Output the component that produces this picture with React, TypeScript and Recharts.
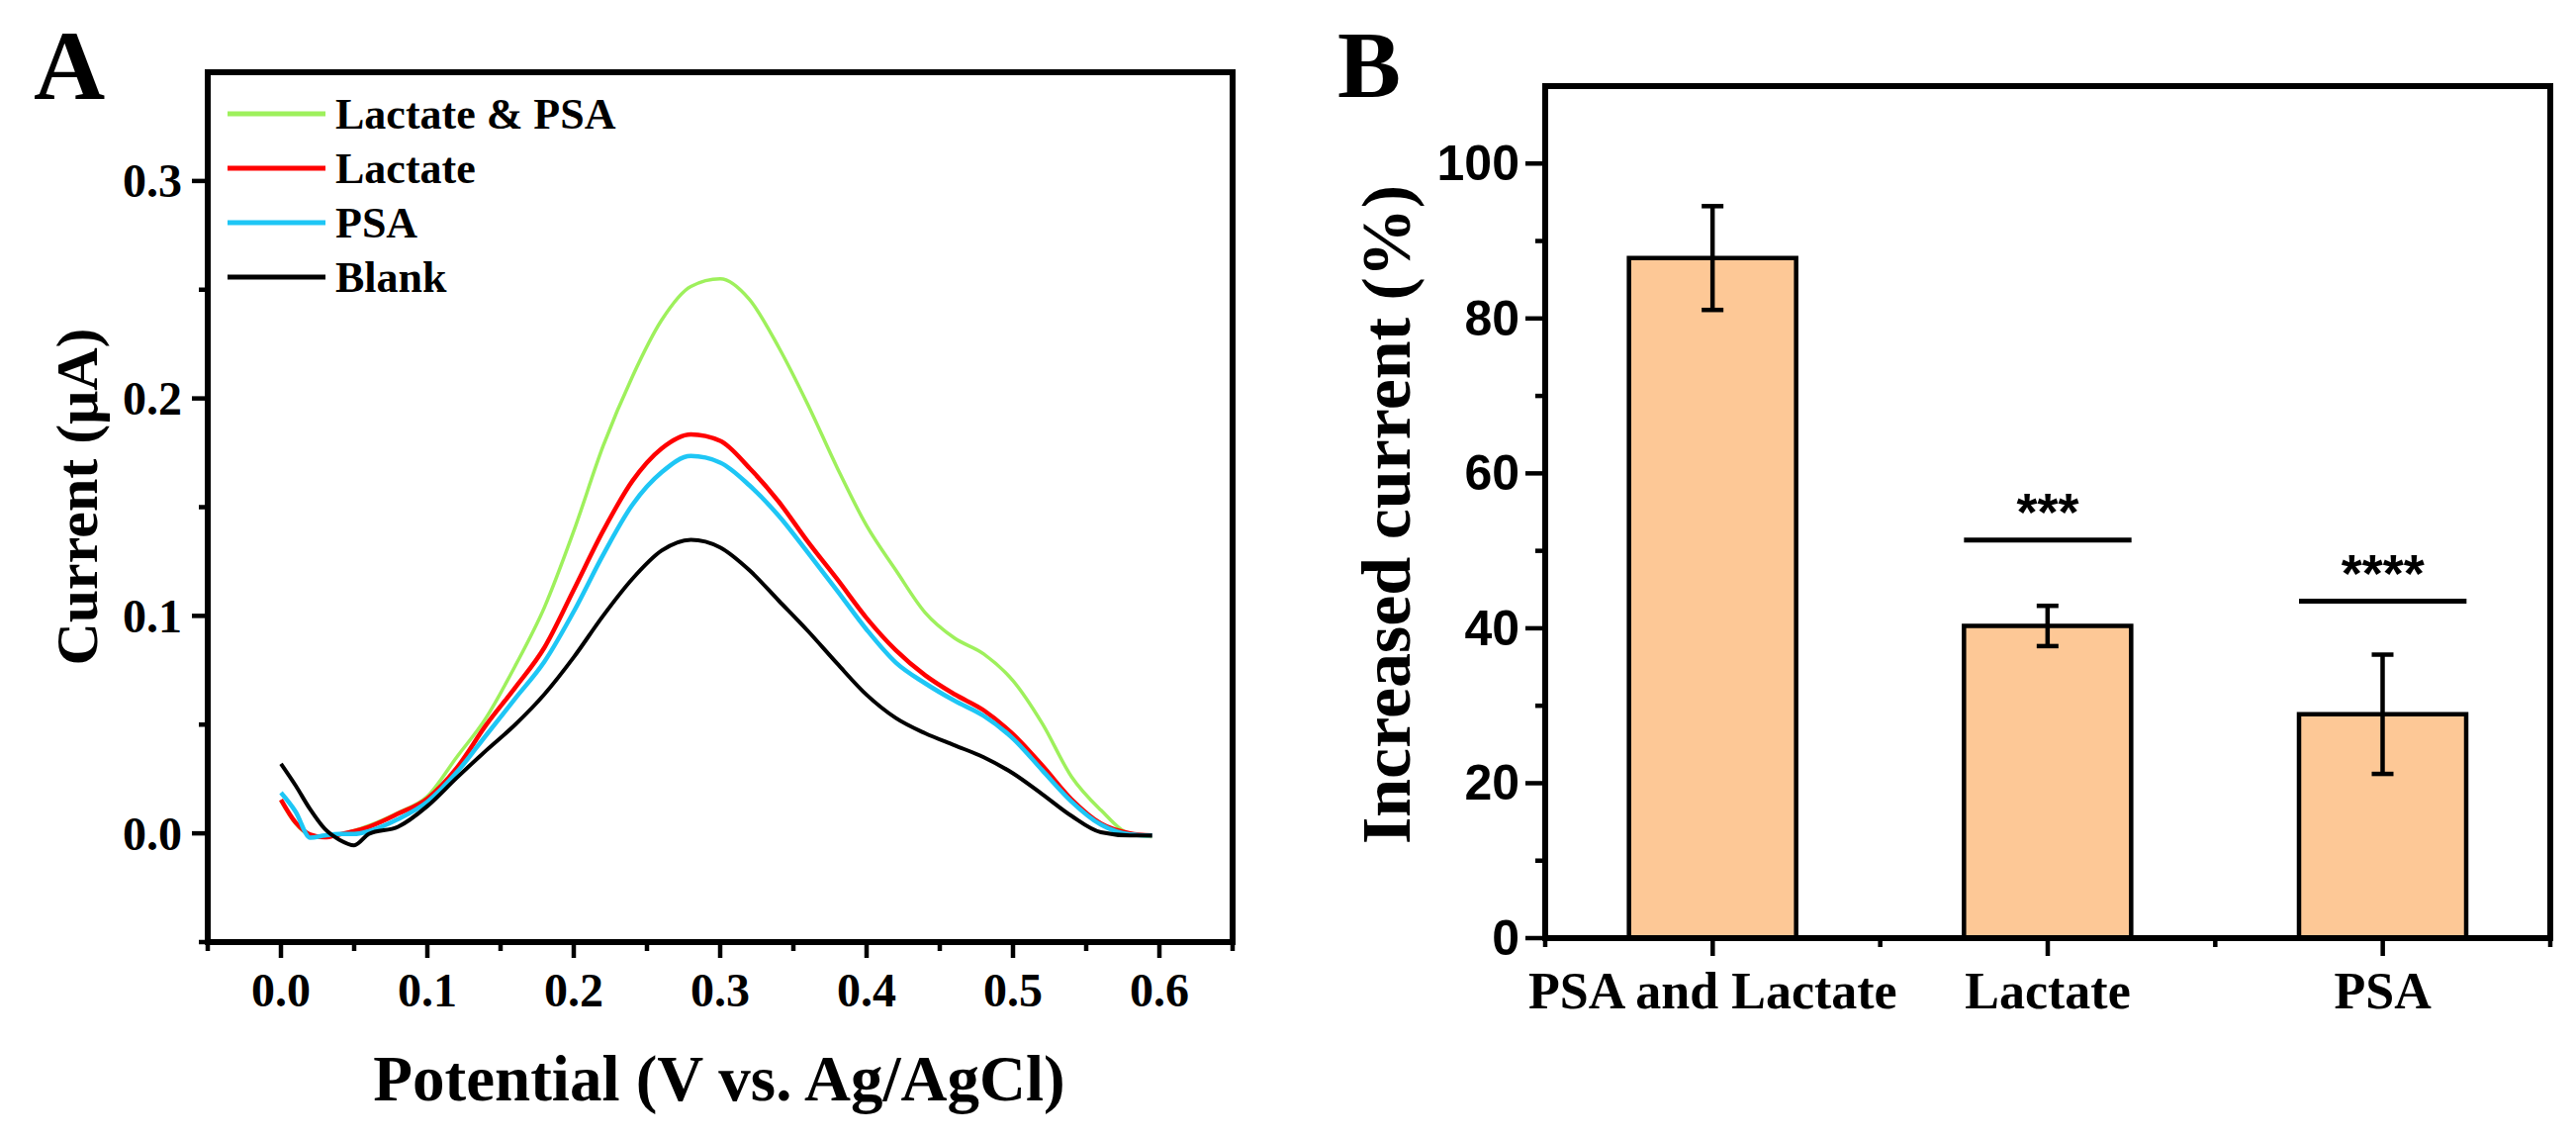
import React from 'react';
import {
  LineChart,
  Line,
  XAxis,
  YAxis,
  ReferenceArea,
  Legend,
  ComposedChart,
  Bar,
  ErrorBar,
  Scatter,
} from 'recharts';

const SERIF = '"Liberation Serif", "Times New Roman", serif';
const SANS = '"Liberation Sans", Arial, sans-serif';

// ---- Panel A: DPV curves ----
const POTENTIAL = [
  0, 0.01, 0.02, 0.03, 0.04, 0.05, 0.06, 0.08, 0.1, 0.12, 0.14, 0.16, 0.18, 0.2, 0.22, 0.24, 0.26,
  0.28, 0.3, 0.32, 0.34, 0.36, 0.38, 0.4, 0.42, 0.44, 0.46, 0.48, 0.5, 0.52, 0.54, 0.56, 0.58, 0.595,
];
const LACTATE_PSA = [
  0.015, 0.0045, -0.0008, -0.0015, -0.0005, 0.0012, 0.0035, 0.0095, 0.017, 0.035, 0.053, 0.077,
  0.104, 0.139, 0.178, 0.21, 0.236, 0.2515, 0.255, 0.2455, 0.2235, 0.197, 0.168, 0.1415, 0.121,
  0.1015, 0.0898, 0.0825, 0.0702, 0.0505, 0.026, 0.0107, -0.0003, -0.0015,
];
const LACTATE = [
  0.0155, 0.005, -0.0005, -0.0018, -0.0005, 0.001, 0.003, 0.009, 0.016, 0.03, 0.0497, 0.067, 0.0855,
  0.112, 0.139, 0.162, 0.177, 0.1835, 0.1805, 0.168, 0.1525, 0.134, 0.1168, 0.099, 0.0842, 0.0727,
  0.064, 0.0566, 0.0456, 0.0312, 0.0156, 0.0045, 0.0, -0.001,
];
const PSA = [
  0.0187, 0.01, -0.002, -0.001, -0.0003, -0.0003, 0.001, 0.0065, 0.0145, 0.028, 0.045, 0.062, 0.079,
  0.102, 0.128, 0.151, 0.166, 0.1735, 0.1705, 0.16, 0.146, 0.129, 0.1115, 0.0937, 0.0785, 0.069,
  0.061, 0.054, 0.0436, 0.029, 0.0146, 0.004, -0.0005, -0.001,
];
const BLANK = [
  0.032, 0.022, 0.011, 0.002, -0.003, -0.0055, -0.0003, 0.003, 0.0125, 0.0255, 0.038, 0.05, 0.064,
  0.081, 0.1, 0.117, 0.13, 0.135, 0.1315, 0.121, 0.107, 0.093, 0.078, 0.0637, 0.053, 0.046, 0.0405,
  0.035, 0.0276, 0.018, 0.008, 0.0005, -0.001, -0.001,
];
const POTENTIAL_TICKS = [-0.05, 0, 0.05, 0.1, 0.15, 0.2, 0.25, 0.3, 0.35, 0.4, 0.45, 0.5, 0.55, 0.6, 0.65];
const CURRENT_TICKS = [-0.05, 0, 0.05, 0.1, 0.15, 0.2, 0.25, 0.3];

const SERIES = [
  { key: 'both', name: 'Lactate & PSA', color: '#9EF05C', width: 3.5 },
  { key: 'lactate', name: 'Lactate', color: '#FF0000', width: 4.5 },
  { key: 'psa', name: 'PSA', color: '#1EC6F5', width: 4.5 },
  { key: 'blank', name: 'Blank', color: '#000000', width: 4 },
];

const dpvData = POTENTIAL.map((v, i) => ({
  v,
  both: LACTATE_PSA[i],
  lactate: LACTATE[i],
  psa: PSA[i],
  blank: BLANK[i],
}));

// ---- Panel B: increased current ----
const CATEGORIES = ['PSA and Lactate', 'Lactate', 'PSA'];
const INCREASE = [87.8, 40.3, 28.9];
const INCREASE_ERR = [6.7, 2.6, 7.7];
const SIG_LEVEL = [null, 51.4, 43.5];
const SIG_STARS = ['', '***', '****'];
const PERCENT_TICKS = [0, 10, 20, 30, 40, 50, 60, 70, 80, 90, 100];

const barData = CATEGORIES.map((name, i) => ({
  name,
  value: INCREASE[i],
  err: INCREASE_ERR[i],
  sig: SIG_LEVEL[i],
  stars: SIG_STARS[i],
}));

// layout
const A_W = 1300;
const B_W = 1304;
const H = 1151;
const B_LEFT = 262;
const B_RIGHT = 26;
const BAND = (B_W - B_LEFT - B_RIGHT) / CATEGORIES.length;
const AXIS = { stroke: '#000', strokeWidth: 6 };

const isMultiple = (v: number, step: number) => Math.abs(v / step - Math.round(v / step)) < 1e-6;

function PotentialTick({ x, y, payload }: any) {
  const v = payload.value;
  const major = isMultiple(v, 0.1);
  return (
    <g>
      <line x1={x} y1={y} x2={x} y2={y + (major ? 16 : 9)} stroke="#000" strokeWidth={4.5} />
      {major && (
        <text x={x} y={y + 65} textAnchor="middle" fontFamily={SERIF} fontWeight="bold" fontSize={48} fill="#000">
          {v.toFixed(1)}
        </text>
      )}
    </g>
  );
}

function CurrentTick({ x, y, payload }: any) {
  const v = payload.value;
  const major = isMultiple(v, 0.1);
  return (
    <g>
      <line x1={x} y1={y} x2={x - (major ? 16 : 9)} y2={y} stroke="#000" strokeWidth={4.5} />
      {major && (
        <text x={x - 26} y={y} textAnchor="end" dominantBaseline="central" fontFamily={SERIF} fontWeight="bold" fontSize={48} fill="#000">
          {v.toFixed(1)}
        </text>
      )}
    </g>
  );
}

function PercentTick({ x, y, payload }: any) {
  const v = payload.value;
  const major = v % 20 === 0;
  return (
    <g>
      <line x1={x} y1={y} x2={x - (major ? 20 : 10)} y2={y} stroke="#000" strokeWidth={4.5} />
      {major && (
        <text x={x - 26} y={y} textAnchor="end" dominantBaseline="central" fontFamily={SANS} fontWeight="bold" fontSize={50} fill="#000">
          {v}
        </text>
      )}
    </g>
  );
}

function CategoryTick({ x, y, payload, index }: any) {
  const last = index === CATEGORIES.length - 1;
  return (
    <g>
      <line x1={x} y1={y} x2={x} y2={y + 18} stroke="#000" strokeWidth={4.5} />
      <line x1={x - BAND / 2} y1={y} x2={x - BAND / 2} y2={y + 9} stroke="#000" strokeWidth={4.5} />
      {last && <line x1={x + BAND / 2} y1={y} x2={x + BAND / 2} y2={y + 9} stroke="#000" strokeWidth={4.5} />}
      <text x={x} y={y + 71} textAnchor="middle" fontFamily={SERIF} fontWeight="bold" fontSize={52} fill="#000">
        {payload.value}
      </text>
    </g>
  );
}

function SigMark(props: any) {
  const { cx, cy, payload } = props;
  if (payload.sig == null) return <g />;
  return (
    <g>
      <line x1={cx - BAND / 4} x2={cx + BAND / 4} y1={cy} y2={cy} stroke="#000" strokeWidth={5} />
      <text x={cx} y={cy - 10} textAnchor="middle" fontFamily={SANS} fontWeight="bold" fontSize={54} fill="#000">
        {payload.stars}
      </text>
    </g>
  );
}

function SeriesKey() {
  return (
    <svg width={420} height={230}>
      {SERIES.map((s, i) => (
        <g key={s.key}>
          <line x1={5} x2={104} y1={30 + i * 55} y2={30 + i * 55} stroke={s.color} strokeWidth={5} />
          <text x={114} y={30 + i * 55} dominantBaseline="central" fontFamily={SERIF} fontWeight="bold" fontSize={44} fill="#000">
            {s.name}
          </text>
        </g>
      ))}
    </svg>
  );
}

export default function App() {
  return (
    <div style={{ position: 'absolute', left: 0, top: 0, width: 2604, height: H, background: '#fff', overflow: 'hidden' }}>
      <div style={{ position: 'absolute', left: 0, top: 0 }}>
        <LineChart width={A_W} height={H} data={dpvData} margin={{ top: 73, right: 54, bottom: 0, left: 0 }}>
          <ReferenceArea x1={-0.05} x2={0.65} y1={-0.05} y2={0.35} fill="none" stroke="#000" strokeWidth={6} />
          <XAxis
            dataKey="v"
            type="number"
            domain={[-0.05, 0.65]}
            ticks={POTENTIAL_TICKS}
            interval={0}
            allowDataOverflow
            height={199}
            tickSize={0}
            tickMargin={0}
            tickLine={false}
            axisLine={AXIS}
            tick={<PotentialTick />}
          />
          <YAxis
            type="number"
            domain={[-0.05, 0.35]}
            ticks={CURRENT_TICKS}
            interval={0}
            allowDataOverflow
            width={210}
            tickSize={0}
            tickMargin={0}
            tickLine={false}
            axisLine={AXIS}
            tick={<CurrentTick />}
          />
          <Legend
            layout="vertical"
            align="center"
            verticalAlign="middle"
            wrapperStyle={{ left: 225, top: 85, width: 420, height: 230 }}
            content={() => <SeriesKey />}
          />
          {SERIES.map((s) => (
            <Line
              key={s.key}
              type="monotone"
              dataKey={s.key}
              name={s.name}
              stroke={s.color}
              strokeWidth={s.width}
              strokeLinejoin="round"
              dot={false}
              activeDot={false}
              isAnimationActive={false}
            />
          ))}
        </LineChart>
      </div>

      <div style={{ position: 'absolute', left: A_W, top: 0 }}>
        <ComposedChart
          width={B_W}
          height={H}
          data={barData}
          margin={{ top: 87, right: B_RIGHT, bottom: 0, left: 0 }}
          barCategoryGap="25%"
        >
          <ReferenceArea x1={CATEGORIES[0]} x2={CATEGORIES[CATEGORIES.length - 1]} y1={0} y2={110} fill="none" stroke="#000" strokeWidth={6} />
          <XAxis
            dataKey="name"
            type="category"
            height={203}
            interval={0}
            tickSize={0}
            tickMargin={0}
            tickLine={false}
            axisLine={AXIS}
            tick={<CategoryTick />}
          />
          <YAxis
            type="number"
            domain={[0, 110]}
            ticks={PERCENT_TICKS}
            interval={0}
            width={B_LEFT}
            tickSize={0}
            tickMargin={0}
            tickLine={false}
            axisLine={AXIS}
            tick={<PercentTick />}
          />
          <Bar dataKey="value" fill="#FDC896" stroke="#000" strokeWidth={4.5} isAnimationActive={false}>
            <ErrorBar dataKey="err" direction="y" width={11} stroke="#000" strokeWidth={4.5} />
          </Bar>
          <Scatter dataKey="sig" shape={<SigMark />} isAnimationActive={false} />
        </ComposedChart>
      </div>

      <svg width={2604} height={H} style={{ position: 'absolute', left: 0, top: 0, pointerEvents: 'none' }}>
        <text x={34} y={100} fontFamily={SERIF} fontWeight="bold" fontSize={100} fill="#000">A</text>
        <text x={1352} y={98} fontFamily={SERIF} fontWeight="bold" fontSize={96} fill="#000">B</text>
        <text
          x={98}
          y={502}
          transform="rotate(-90 98 502)"
          textAnchor="middle"
          fontFamily={SERIF}
          fontWeight="bold"
          fontSize={60}
          fill="#000"
        >
          Current (μA)
        </text>
        <text x={727} y={1112} textAnchor="middle" fontFamily={SERIF} fontWeight="bold" fontSize={65} fill="#000">
          Potential (V vs. Ag/AgCl)
        </text>
        <text
          x={1425}
          y={520}
          transform="rotate(-90 1425 520)"
          textAnchor="middle"
          fontFamily={SERIF}
          fontWeight="bold"
          fontSize={70}
          fill="#000"
        >
          Increased current (%)
        </text>
      </svg>
    </div>
  );
}
